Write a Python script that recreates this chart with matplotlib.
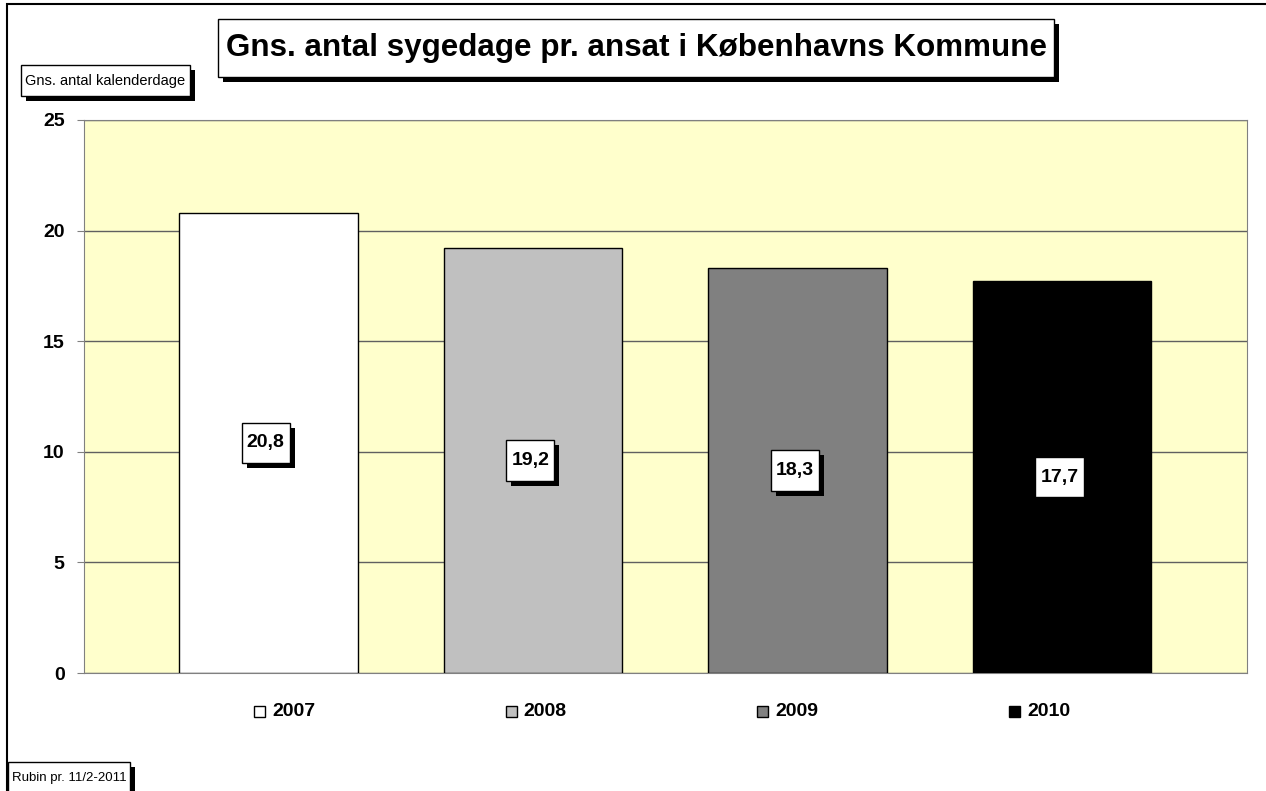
import matplotlib
matplotlib.use("Agg")
import matplotlib.pyplot as plt
import matplotlib.patheffects as pe
from matplotlib.patches import Rectangle
from matplotlib.path import Path

plt.rcParams['font.family'] = ['Liberation Sans', 'DejaVu Sans']

# data
years = ["2007", "2008", "2009", "2010"]
days = [20.8, 19.2, 18.3, 17.7]
bar_colors = ["white", "#c0c0c0", "#808080", "black"]
yticks = [0, 5, 10, 15, 20, 25]

W, H = 1266, 791
fig = plt.figure(figsize=(W / 100, H / 100), dpi=100)

def fx(px):
    return px / W

def fy(py):
    return 1 - py / H

ax = fig.add_axes([fx(84), fy(673), fx(1247) - fx(84), fy(120) - fy(673)])
ax.set_facecolor("#ffffcc")

xs = range(len(years))
ax.bar(xs, days, width=0.674, color=bar_colors, edgecolor="black", linewidth=1, zorder=3)
ax.set_xlim(-0.697, 3.699)
ax.set_ylim(0, 25)
ax.set_yticks(yticks)
ax.set_xticks([])
ax.grid(axis="y", color="#606060", linewidth=1, zorder=1)
for s in ax.spines.values():
    s.set_color("#808080")
ax.tick_params(axis="y", direction="out", length=5, color="#808080", pad=9,
               labelsize=14)
for lab in ax.get_yticklabels():
    lab.set_fontweight("bold")


def box_style(padx, pady):
    # square box with separate x / y padding (fractions of font size)
    def style(x0, y0, width, height, mutation_size):
        px, py = padx * mutation_size, pady * mutation_size
        x1, y1 = x0 + width + px, y0 + height + py
        x0, y0 = x0 - px, y0 - py
        return Path([(x0, y0), (x1, y0), (x1, y1), (x0, y1), (x0, y0)], closed=True)
    return style


def boxed(x, y, s, size, weight, coords, padx, pady, z=6):
    t = ax.annotate(s, (x, y), xycoords=coords, ha="center", va="center",
                    fontsize=size, fontweight=weight, color="black",
                    bbox=dict(boxstyle=box_style(padx, pady), fc="white",
                              ec="black", lw=1),
                    zorder=z, annotation_clip=False)
    t.get_bbox_patch().set_path_effects([
        pe.SimplePatchShadow(offset=(3.6, -3.6), shadow_rgbFace="black", alpha=1),
        pe.Normal()])
    return t


# value labels in the middle of the bars
for i, v in enumerate(days):
    boxed(i - 0.01, v / 2, f"{v:.1f}".replace(".", ","), 14, "bold", "data", 0.26, 0.6)

# title and axis caption boxes
boxed(fx(636), fy(48), "Gns. antal sygedage pr. ansat i Københavns Kommune",
      22.6, "bold", "figure fraction", 0.24, 0.44)
boxed(fx(105.5), fy(80.5), "Gns. antal kalenderdage", 10.5, "normal",
      "figure fraction", 0.33, 0.57)
boxed(fx(69), fy(778), "Rubin pr. 11/2-2011", 9.5, "normal",
      "figure fraction", 0.3, 0.76)

# legend row under the bars
sq = 11
for i, (yr, c) in enumerate(zip(years, bar_colors)):
    left = 254 + i * 251.7
    fig.add_artist(Rectangle((fx(left), fy(711 + sq / 2)), fx(sq), fy(0) - fy(sq),
                             transform=fig.transFigure, facecolor=c,
                             edgecolor="black", linewidth=1))
    fig.text(fx(left + 18), fy(711), yr, fontsize=14, fontweight="bold",
             ha="left", va="center")

# outer chart frame
fig.add_artist(Rectangle((fx(7), fy(H + 10)), fx(W + 20), fy(4) - fy(H + 10),
                         transform=fig.transFigure, fill=False,
                         edgecolor="black", linewidth=1.5, zorder=0))

fig.savefig("out.png", dpi=100)
